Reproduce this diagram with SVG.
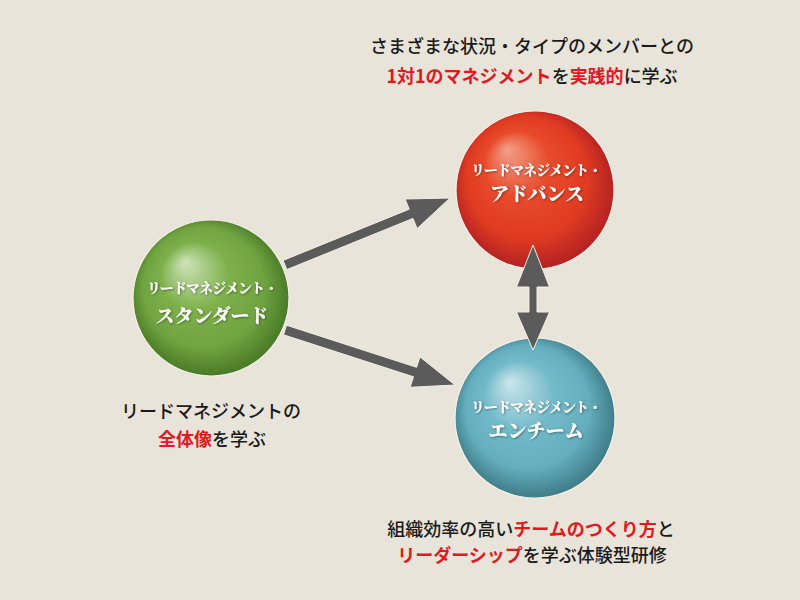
<svg xmlns="http://www.w3.org/2000/svg" width="800" height="600" viewBox="0 0 800 600">
<style>
  .cap { font-family: "Noto Sans CJK JP", "Noto Sans", sans-serif; font-size: 18px; font-weight: 500; fill: #1a1a1a; text-anchor: middle; }
  .red { fill: #e01a22; font-weight: 700; }
  .lbl { font-family: "Noto Serif CJK JP", "Noto Sans CJK JP", serif; font-weight: 900; fill: #ffffff; text-anchor: middle; filter: url(#ts); }
  .l1 { font-size: 14px; letter-spacing: -0.9px; }
  .l2 { font-size: 19px; }
  .arrow { fill: #5b5b5b; stroke: #f4efe6; stroke-width: 1; stroke-linejoin: miter; }
  .ball { stroke: #f6f1e8; stroke-width: 1.2; }
</style>
<defs>
  <radialGradient id="gRed" cx="50%" cy="50%" r="55%" fx="32%" fy="24%">
    <stop offset="0" stop-color="#f2a088"/>
    <stop offset="0.38" stop-color="#e84a2b"/>
    <stop offset="0.7" stop-color="#df3b22"/>
    <stop offset="1" stop-color="#a81b22"/>
  </radialGradient>
  <radialGradient id="gGreen" cx="50%" cy="50%" r="55%" fx="33%" fy="27%">
    <stop offset="0" stop-color="#cfe3b8"/>
    <stop offset="0.4" stop-color="#7db04b"/>
    <stop offset="0.7" stop-color="#70a441"/>
    <stop offset="1" stop-color="#3f6e1f"/>
  </radialGradient>
  <radialGradient id="gTeal" cx="50%" cy="50%" r="55%" fx="34%" fy="27%">
    <stop offset="0" stop-color="#cbe6eb"/>
    <stop offset="0.4" stop-color="#72bac9"/>
    <stop offset="0.7" stop-color="#64aebd"/>
    <stop offset="1" stop-color="#356e7a"/>
  </radialGradient>
  <filter id="ts" x="-10%" y="-30%" width="120%" height="160%">
    <feDropShadow dx="0.8" dy="0.8" stdDeviation="0.8" flood-color="#000" flood-opacity="0.45"/>
  </filter>
</defs>
<rect x="0" y="0" width="800" height="600" fill="#e9e4d9"/>

<g id="caption-advance">
  <text class="cap" x="532" y="53">さまざまな状況・タイプのメンバーとの</text>
  <text class="cap" x="532" y="83"><tspan class="red">1対1のマネジメント</tspan>を<tspan class="red">実践的</tspan>に学ぶ</text>
</g>
<g id="caption-standard">
  <text class="cap" x="211" y="418">リードマネジメントの</text>
  <text class="cap" x="212" y="446"><tspan class="red">全体像</tspan>を学ぶ</text>
</g>
<g id="caption-enteam">
  <text class="cap" x="531" y="536">組織効率の高い<tspan class="red">チームのつくり方</tspan>と</text>
  <text class="cap" x="532" y="562"><tspan class="red">リーダーシップ</tspan>を学ぶ体験型研修</text>
</g>

<g id="node-standard">
  <circle class="ball" cx="211" cy="298" r="78" fill="url(#gGreen)"/>
  <text class="lbl l1" x="212" y="293">リードマネジメント・</text>
  <text class="lbl l2" x="212" y="323">スタンダード</text>
</g>
<g id="node-advance">
  <circle class="ball" cx="535" cy="190" r="79" fill="url(#gRed)"/>
  <text class="lbl l1" x="536" y="175">リードマネジメント・</text>
  <text class="lbl l2" x="537" y="201">アドバンス</text>
</g>
<g id="node-enteam">
  <circle class="ball" cx="535" cy="418" r="80" fill="url(#gTeal)"/>
  <text class="lbl l1" x="536" y="412">リードマネジメント・</text>
  <text class="lbl l2" x="536" y="438">エンチーム</text>
</g>

<g id="connectors">
  <polygon class="arrow" points="283.1,260.4 409.2,209.2 405.1,199.0 450,198 417.1,228.6 413.0,218.4 286.9,269.6"/>
  <polygon class="arrow" points="286.5,325.2 416.6,367.3 420.0,356.9 455,385 410.1,387.3 413.5,376.8 283.5,334.8"/>
  <polygon class="arrow" points="533,245 549.5,287 537,287 537,312 549.5,312 533,350 516.5,312 529,312 529,287 516.5,287"/>
</g>
</svg>
